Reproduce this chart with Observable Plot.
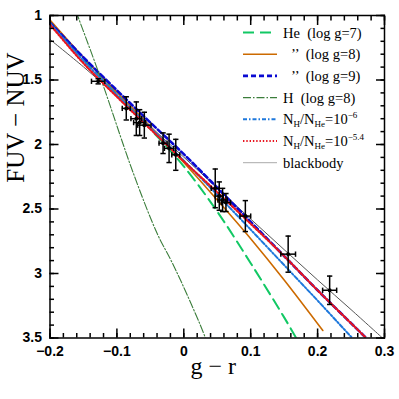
<!DOCTYPE html>
<html><head><meta charset="utf-8">
<script src="https://cdn.jsdelivr.net/npm/d3@7"></script>
<script src="https://cdn.jsdelivr.net/npm/@observablehq/plot@0.6"></script>
<style>
html,body{margin:0;padding:0;background:#fff;}
#wrap{position:relative;width:399px;height:399px;}
#legend{position:absolute;left:0;top:0;pointer-events:none;}
</style></head><body><div id="wrap"></div>
<script>
// ---- observed points (g - r, FUV - NUV, errors) ----
const gr     = [-0.128, -0.086, -0.071, -0.066, -0.059, -0.031, -0.022, -0.012, 0.047, 0.053, 0.058, 0.063, 0.092, 0.156, 0.218];
const fuvnuv = [1.51, 1.72, 1.80, 1.83, 1.85, 1.99, 2.03, 2.08, 2.34, 2.40, 2.43, 2.45, 2.555, 2.85, 3.13];
const grErr  = [0.010, 0.006, 0.008, 0.009, 0.010, 0.006, 0.007, 0.006, 0.006, 0.006, 0.007, 0.007, 0.008, 0.011, 0.0105];
const colErr = [0.02, 0.09, 0.13, 0.10, 0.10, 0.08, 0.11, 0.12, 0.15, 0.11, 0.09, 0.07, 0.12, 0.14, 0.11];

// ---- model curves ----
const he7X = [-0.2, -0.15, -0.1, -0.05, 0, 0.05, 0.1, 0.15, 0.168];
const he7Y = [1.05, 1.34, 1.61, 1.88, 2.17, 2.52, 2.92, 3.34, 3.5];
const he8X = [-0.2, -0.15, -0.1, -0.05, 0, 0.05, 0.1, 0.15, 0.2078];
const he8Y = [1.035, 1.325, 1.595, 1.86, 2.14, 2.43, 2.73, 3.05, 3.442];
const he9X = [-0.2, -0.15, -0.1, -0.05, 0, 0.05, 0.1, 0.15, 0.2, 0.2726];
const he9Y = [1.055, 1.325, 1.58, 1.83, 2.075, 2.335, 2.6, 2.865, 3.13, 3.5];
const h8X  = [-0.161, -0.1245, -0.0747, -0.0398, -0.0199, -0.0024, 0.0239, 0.0324];
const h8Y  = [0.97, 1.483, 2.233, 2.69, 2.89, 3.08, 3.39, 3.5];
const mix6X = [-0.2, -0.15, -0.1, -0.05, 0, 0.05, 0.1, 0.16, 0.2, 0.2517];
const mix6Y = [1.06, 1.35, 1.615, 1.87, 2.125, 2.39, 2.66, 2.99, 3.21, 3.5];
const mix54X = [-0.2, -0.15, -0.1, -0.05, 0, 0.05, 0.1, 0.15, 0.2, 0.2726];
const mix54Y = [1.07, 1.37, 1.63, 1.88, 2.13, 2.37, 2.615, 2.865, 3.13, 3.5];
const bbX = [-0.2, -0.15, -0.1, -0.05, 0, 0.05, 0.1, 0.15, 0.2, 0.25, 0.297];
const bbY = [1.186, 1.398, 1.625, 1.86, 2.098, 2.338, 2.578, 2.815, 3.05, 3.28, 3.5];

// ---- ticks ----
const xMajor = [-0.2, -0.1, 0, 0.1, 0.2, 0.3];
const xMinor = d3.range(-20, 31, 2).map(v => v / 100);
const yMajor = [1, 1.5, 2, 2.5, 3, 3.5];
const yMinor = d3.range(10, 36, 1).map(v => v / 10);

const toRows = (X, Y) => X.map((x, i) => ({x, y: Y[i]}));
const pts = gr.map((x, i) => ({x, y: fuvnuv[i], ex: grErr[i], ey: colErr[i]}));

const capH = {draw(ctx, size) { const r = Math.sqrt(size) / 2; ctx.moveTo(-r, 0); ctx.lineTo(r, 0); }};
const capV = {draw(ctx, size) { const r = Math.sqrt(size) / 2; ctx.moveTo(0, -r); ctx.lineTo(0, r); }};

const styles = {
  he7:  {stroke: "#12c864", strokeWidth: 2, strokeDasharray: "11,6"},
  he8:  {stroke: "#cc6a00", strokeWidth: 1.6},
  he9:  {stroke: "#0a0ad2", strokeWidth: 2.6, strokeDasharray: "5,3"},
  h8:   {stroke: "#3b7d3b", strokeWidth: 1.1, strokeDasharray: "8,2,1.5,2"},
  mix6: {stroke: "#1e78dc", strokeWidth: 2, strokeDasharray: "4,2,1.5,2"},
  mix54:{stroke: "#e8141e", strokeWidth: 2.2, strokeDasharray: "1.4,1.9"},
  bb:   {stroke: "#555555", strokeWidth: 1}
};
const tickFmt = d => d === 0 ? "0" : (d < 0 ? "\u2212" + String(Math.abs(d)) : String(d));

const line = (X, Y, st) => Plot.line(toRows(X, Y), {x: "x", y: "y", curve: "catmull-rom", clip: true, ...st});
const tickAxis = (fn, anchor, ticks, size) => fn({anchor, ticks, tickSize: size, tickFormat: () => "", strokeWidth: 1.5, label: null});

const chart = Plot.plot({
  width: 399, height: 399,
  marginTop: 15, marginRight: 15, marginBottom: 61.5, marginLeft: 49.5,
  style: {fontFamily: "Liberation Sans, Arial, sans-serif", background: "white", color: "black"},
  x: {domain: [-0.2, 0.3], label: null},
  y: {domain: [1, 3.5], reverse: true, label: null},
  marks: [
    line(bbX, bbY, styles.bb),
    line(he7X, he7Y, styles.he7),
    line(he8X, he8Y, styles.he8),
    line(he9X, he9Y, styles.he9),
    line(h8X, h8Y, styles.h8),
    line(mix6X, mix6Y, styles.mix6),
    line(mix54X, mix54Y, styles.mix54),
    // error bars
    Plot.ruleX(pts, {x: "x", y1: d => d.y - d.ey, y2: d => d.y + d.ey, stroke: "black", strokeWidth: 1.5}),
    Plot.ruleY(pts, {y: "y", x1: d => d.x - d.ex, x2: d => d.x + d.ex, stroke: "black", strokeWidth: 1.5}),
    Plot.dot(pts, {x: "x", y: d => d.y - d.ey, symbol: capH, r: 3, stroke: "black", fill: "none", strokeWidth: 1.5}),
    Plot.dot(pts, {x: "x", y: d => d.y + d.ey, symbol: capH, r: 3, stroke: "black", fill: "none", strokeWidth: 1.5}),
    Plot.dot(pts, {x: d => d.x - d.ex, y: "y", symbol: capV, r: 3, stroke: "black", fill: "none", strokeWidth: 1.5}),
    Plot.dot(pts, {x: d => d.x + d.ex, y: "y", symbol: capV, r: 3, stroke: "black", fill: "none", strokeWidth: 1.5}),
    Plot.dot(pts, {x: "x", y: "y", r: 2, fill: "black"}),
    // inward ticks
    tickAxis(Plot.axisX, "bottom", xMajor, -9),
    tickAxis(Plot.axisX, "bottom", xMinor, -4.5),
    tickAxis(Plot.axisX, "top", xMajor, -9),
    tickAxis(Plot.axisX, "top", xMinor, -4.5),
    tickAxis(Plot.axisY, "left", yMajor, -9),
    tickAxis(Plot.axisY, "left", yMinor, -4.5),
    tickAxis(Plot.axisY, "right", yMajor, -9),
    tickAxis(Plot.axisY, "right", yMinor, -4.5),
    // tick labels
    Plot.axisX({anchor: "bottom", ticks: xMajor, tickSize: 0, tickPadding: 8, tickFormat: tickFmt, fontSize: 14, fontWeight: "bold", label: null}),
    Plot.axisY({anchor: "left", ticks: yMajor, tickSize: 0, tickPadding: 8, tickFormat: tickFmt, fontSize: 14, fontWeight: "bold", label: null}),
    Plot.frame({stroke: "black", strokeWidth: 1.5}),
    Plot.text(["g \u2212 r"], {frameAnchor: "bottom", dy: 36, dx: -4, fontSize: 24, fontFamily: "Liberation Serif, serif"}),
    Plot.text(["FUV \u2212 NUV"], {frameAnchor: "left", rotate: -90, dx: -34, dy: 6, fontSize: 25, fontFamily: "Liberation Serif, serif"})
  ]
});

const wrap = document.getElementById("wrap");
wrap.appendChild(chart);

// ---- legend overlay ----
const NS = "http://www.w3.org/2000/svg";
const leg = document.createElementNS(NS, "svg");
leg.setAttribute("id", "legend");
leg.setAttribute("width", 399); leg.setAttribute("height", 399);
wrap.appendChild(leg);
const legendKeys = ["he7", "he8", "he9", "h8", "mix6", "mix54", "bb"];
const legendText = [
  [["He  (log g=7)", 0]],
  [["\u2019\u2019  (log g=8)", 0]],
  [["\u2019\u2019  (log g=9)", 0]],
  [["H  (log g=8)", 0]],
  [["N", 0], ["H", 1], ["/N", 0], ["He", 1], ["=10", 0], ["\u22126", 2]],
  [["N", 0], ["H", 1], ["/N", 0], ["He", 1], ["=10", 0], ["\u22125.4", 2]],
  [["blackbody", 0]]
];
const indent = [0, 8, 8, 0, 0, 0, 0];
legendKeys.forEach((k, i) => {
  const yy = 32.5 + i * 21.7;
  const st = styles[k];
  const ln = document.createElementNS(NS, "line");
  ln.setAttribute("x1", 243); ln.setAttribute("x2", 277);
  ln.setAttribute("y1", yy); ln.setAttribute("y2", yy);
  ln.setAttribute("stroke", k === "bb" ? "#aaaaaa" : st.stroke);
  ln.setAttribute("stroke-width", st.strokeWidth);
  if (st.strokeDasharray) ln.setAttribute("stroke-dasharray", st.strokeDasharray);
  leg.appendChild(ln);
  const t = document.createElementNS(NS, "text");
  t.setAttribute("x", 283 + indent[i]); t.setAttribute("y", yy + 5);
  t.setAttribute("font-family", "Liberation Serif, serif");
  t.setAttribute("font-size", 14.5);
  t.style.whiteSpace = "pre";
  let shift = 0;
  legendText[i].forEach(([s, kind]) => {
    const sp = document.createElementNS(NS, "tspan");
    sp.textContent = s;
    const target = kind === 1 ? 3 : kind === 2 ? -6 : 0;
    sp.setAttribute("dy", target - shift);
    shift = target;
    if (kind) sp.setAttribute("font-size", 9);
    t.appendChild(sp);
  });
  leg.appendChild(t);
});
</script>
</body></html>
